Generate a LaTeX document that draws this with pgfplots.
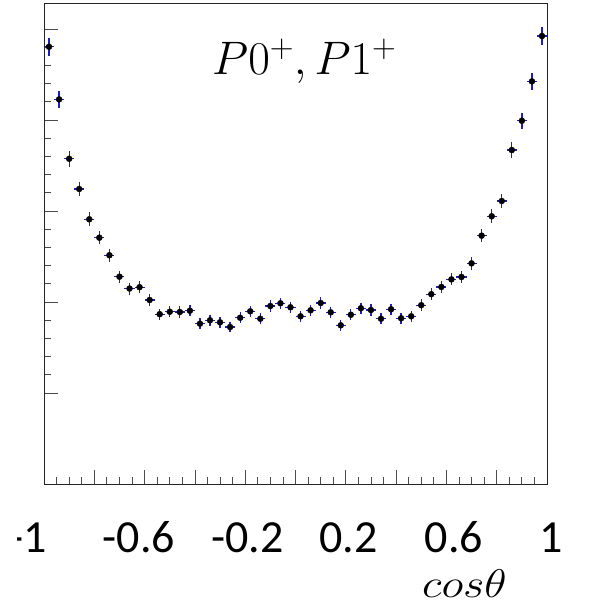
\RequirePackage{fix-cm}
\documentclass[border=0pt]{standalone}
\usepackage{fontspec}
\usepackage{graphicx}
\usepackage{pgfplots}
\pgfplotsset{compat=1.18}
\usepackage{pgfplotstable}
\newfontfamily\carlito{Carlito}
\definecolor{errblue}{RGB}{30,30,190}

\pgfplotstableread{
x y ex ey
-0.98 4.805 0.02 0.099
-0.94 4.227 0.02 0.093
-0.90 3.574 0.02 0.085
-0.86 3.242 0.02 0.081
-0.82 2.909 0.02 0.077
-0.78 2.707 0.02 0.074
-0.74 2.514 0.02 0.071
-0.70 2.278 0.02 0.068
-0.66 2.148 0.02 0.066
-0.62 2.163 0.02 0.066
-0.58 2.022 0.02 0.064
-0.54 1.866 0.02 0.061
-0.50 1.893 0.02 0.062
-0.46 1.890 0.02 0.062
-0.42 1.904 0.02 0.062
-0.38 1.762 0.02 0.060
-0.34 1.799 0.02 0.060
-0.30 1.777 0.02 0.060
-0.26 1.725 0.02 0.059
-0.22 1.827 0.02 0.061
-0.18 1.898 0.02 0.062
-0.14 1.816 0.02 0.061
-0.10 1.956 0.02 0.063
-0.06 1.986 0.02 0.063
-0.02 1.942 0.02 0.063
0.02 1.843 0.02 0.061
0.06 1.909 0.02 0.062
0.10 1.989 0.02 0.063
0.14 1.887 0.02 0.062
0.18 1.744 0.02 0.059
0.22 1.860 0.02 0.061
0.26 1.931 0.02 0.063
0.30 1.912 0.02 0.062
0.34 1.816 0.02 0.061
0.38 1.920 0.02 0.062
0.42 1.821 0.02 0.061
0.46 1.843 0.02 0.061
0.50 1.965 0.02 0.063
0.54 2.086 0.02 0.065
0.58 2.165 0.02 0.066
0.62 2.249 0.02 0.067
0.66 2.275 0.02 0.068
0.70 2.425 0.02 0.070
0.74 2.729 0.02 0.074
0.78 2.942 0.02 0.077
0.82 3.110 0.02 0.079
0.86 3.670 0.02 0.086
0.90 3.992 0.02 0.090
0.94 4.425 0.02 0.095
0.98 4.923 0.02 0.100
}\datatable

\begin{document}
\begin{tikzpicture}[x=1pt,y=1pt,
  biglab/.style={anchor=base, inner sep=0pt, text depth=0pt, font=\carlito\fontsize{46}{50}\selectfont}]
\useasboundingbox (0,0) rectangle (590,606);
\begin{axis}[
  at={(44pt,122pt)}, anchor=south west,
  width=503pt, height=480pt, scale only axis,
  xmin=-1, xmax=1, ymin=0, ymax=5.275,
  axis line style={black!85, line width=1pt},
  tick align=inside,
  xtick={-1,-0.8,-0.6,-0.4,-0.2,0,0.2,0.4,0.6,0.8,1},
  minor x tick num=3,
  ytick={1,2,3,4,5},
  minor y tick num=4,
  xticklabels={}, yticklabels={},
  xtick pos=bottom, ytick pos=left,
  major tick length=14pt, minor tick length=7pt,
  every tick/.style={black!70, line width=0.8pt},
  clip=false,
]
\addplot[only marks, mark=*, mark size=3pt, mark options={black, fill=black},
  error bars/.cd, x dir=both, x explicit, y dir=both, y explicit,
  error mark=none,
  error bar style={errblue, line width=1.3pt}]
  table[x=x, y=y, x error=ex, y error=ey] {\datatable};
\end{axis}

\begin{scope}
\clip (17,0) rectangle (100,606);
\node[biglab, anchor=base east] at (47,53) {-1};
\end{scope}
\node[biglab] at (139,53) {-0.6};
\node[biglab] at (247.5,53) {-0.2};
\node[biglab] at (348.5,53) {0.2};
\node[biglab] at (454,53) {0.6};
\node[biglab] at (551.5,53) {1};

\node[anchor=base west, inner sep=0pt, font=\fontsize{40}{44}\selectfont] at (422,9) {\scalebox{1.15}[1]{$cos\theta$}};
\node[anchor=base west, inner sep=0pt, font=\fontsize{47}{52}\selectfont] at (212,531.7) {$P0^+, P1^+$};
\end{tikzpicture}
\end{document}
